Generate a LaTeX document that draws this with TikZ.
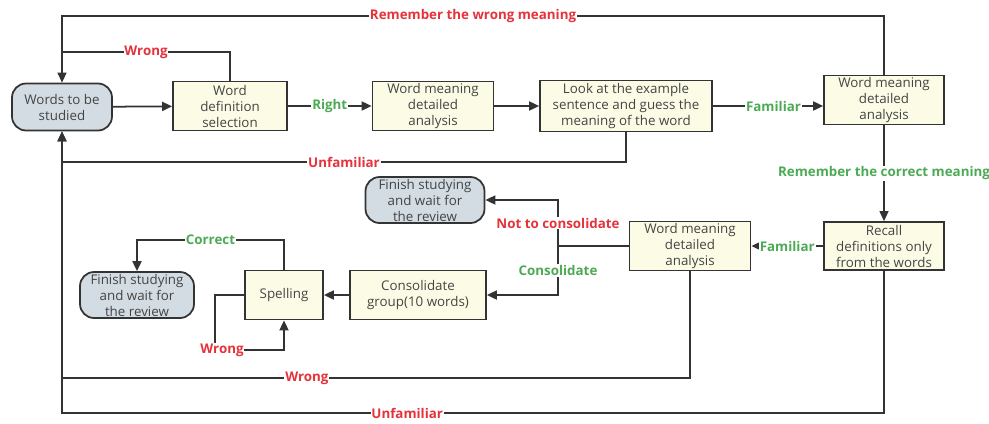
\documentclass[tikz,border=0pt]{standalone}
\usepackage{fontspec}
\setmainfont{Open Sans}
\usetikzlibrary{arrows.meta}
\definecolor{boxfill}{HTML}{FCFCE6}
\definecolor{termfill}{HTML}{D3DCE3}
\definecolor{lineclr}{HTML}{333333}
\definecolor{txtclr}{HTML}{444444}
\definecolor{lblred}{HTML}{E5323B}
\definecolor{lblgreen}{HTML}{4CAA55}
\begin{document}
\begin{tikzpicture}[x=0.02cm,y=-0.02cm]
\tikzset{
  stepbox/.style={rectangle,draw=lineclr,line width=1pt,fill=boxfill,text=txtclr,align=center,font=\fontsize{7.6}{9.1}\selectfont,inner sep=1pt},
  termbox/.style={stepbox,fill=termfill,rounded corners=8pt,inner ysep=0pt},
  flowedge/.style={draw=lineclr,line width=1pt,line join=miter},
  directed/.style={flowedge,-{Triangle[length=2mm,width=1.8mm]}},
  thinedge/.style={flowedge,line width=0.7pt},
  thindirected/.style={directed,line width=0.7pt},
  redlbl/.style={fill=white,inner sep=0.5pt,text=lblred,font=\fontsize{7.6}{9}\selectfont\bfseries},
  greenlbl/.style={redlbl,text=lblgreen}
}
\useasboundingbox (0,0) rectangle (989,423);
\node[termbox,minimum width=2cm,minimum height=0.94cm] (n_words) at (62,107) {Words to be\\studied};
\node[stepbox,minimum width=2.28cm,minimum height=0.98cm] (n_def) at (230,106) {Word\\definition\\selection};
\node[stepbox,minimum width=2.42cm,minimum height=0.98cm] (n_wm1) at (433,106) {Word meaning\\detailed\\analysis};
\node[stepbox,minimum width=3.44cm,minimum height=1.02cm] (n_look) at (626,106) {Look at the example\\sentence and guess the\\meaning of the word};
\node[stepbox,minimum width=2.4cm,minimum height=0.98cm] (n_wm2) at (884,100) {Word meaning\\detailed\\analysis};
\node[stepbox,minimum width=2.4cm,minimum height=0.96cm] (n_recall) at (884,246) {Recall\\definitions only\\from the words};
\node[stepbox,minimum width=2.42cm,minimum height=0.96cm] (n_wm3) at (690,246) {Word meaning\\detailed\\analysis};
\node[termbox,minimum width=2.38cm,minimum height=0.92cm] (n_fin1) at (425,200) {Finish studying\\and wait for\\the review};
\node[stepbox,minimum width=2.72cm,minimum height=0.98cm] (n_cons) at (418,295) {Consolidate\\group(10 words)};
\node[stepbox,minimum width=1.56cm,minimum height=0.98cm] (n_spell) at (284,295) {Spelling};
\node[termbox,minimum width=2.28cm,minimum height=0.92cm] (n_fin2) at (137,295) {Finish studying\\and wait for\\the review};
\coordinate (c_split) at (558,246);
\draw[directed] (n_words) -- (n_def);
\draw[directed] (n_def) -- node[greenlbl] (l_right) {Right} (n_wm1);
\draw[directed] (n_wm1) -- (n_look);
\draw[directed] (n_look.east) -- node[greenlbl,pos=0.55] (l_fam1) {Familiar} (n_look.east -| n_wm2.west);
\draw[thindirected] (n_wm2.north) -- (884,16) -- node[redlbl] (l_wrongmean) {Remember the wrong meaning} (62,16) -- (n_words.north);
\draw[flowedge] (n_def.north) -- (230,52) -- node[redlbl] (l_wrong1) {Wrong} (62,52);
\draw[directed] (n_look.south) -- (626,162) -- node[redlbl] (l_unfam1) {Unfamiliar} (62,162) -- (n_words.south);
\draw[thindirected] (n_wm2) -- node[greenlbl] (l_correct) {Remember the correct meaning} (n_recall);
\draw[directed] (n_recall) -- node[greenlbl] (l_fam2) {Familiar} (n_wm3);
\draw[flowedge] (n_wm3) -- (c_split);
\draw[directed] (c_split) -- node[redlbl] (l_notcons) {Not to consolidate} (c_split |- n_fin1) -- (n_fin1);
\draw[directed] (c_split) -- node[greenlbl] (l_cons) {Consolidate} (c_split |- n_cons) -- (n_cons);
\draw[directed] (n_cons) -- (n_spell);
\draw[directed] (n_spell.north) -- (284,240) -- node[greenlbl] (l_corr) {Correct} (137,240) -- (n_fin2.north);
\draw[directed] (n_spell.west) -- (215,295) -- (215,350) -- (284,350) -- (n_spell.south);
\node[redlbl] (l_wrong2) at (222,350) {Wrong};
\draw[thinedge] (n_wm3.south) -- (690,378) -- node[redlbl,pos=0.61] (l_wrong3) {Wrong} (62,378);
\draw[thindirected] (n_recall.south) -- (884,413) -- node[redlbl,pos=0.58] (l_unfam2) {Unfamiliar} (62,413) -- (n_words.south);
\end{tikzpicture}
\end{document}
